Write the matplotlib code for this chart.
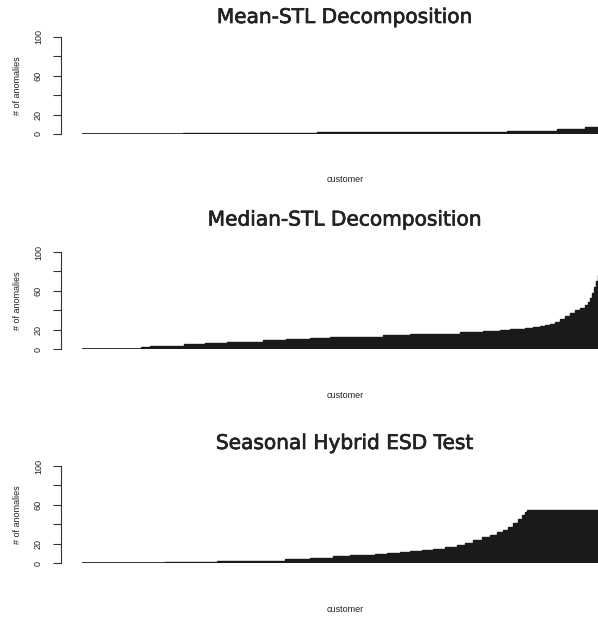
import numpy as np
import matplotlib
matplotlib.use("Agg")
import matplotlib.pyplot as plt
import matplotlib.patheffects as pe

# ---- data (sorted number of anomalies per customer, run-length encoded) ----
titles = ["Mean-STL Decomposition", "Median-STL Decomposition", "Seasonal Hybrid ESD Test"]

mean_counts = [101, 134, 190, 50, 28, 17]
mean_levels = [0, 1, 2, 3, 5, 7]

median_counts = [59, 9, 34, 21, 22, 36, 23, 24, 20, 25, 28, 27, 23, 27, 23, 17, 10, 15,
                 8, 7, 5, 5, 5, 5, 5, 5, 5, 5, 5, 3, 2, 2, 2, 2, 2, 2, 2]
median_levels = [0, 2.4, 3.4, 4.8, 5.9, 7.2, 9.0, 10.3, 11.0, 12.1, 12.7, 14.1, 15.0, 15.8,
                 17.2, 18.6, 19.5, 20.3, 21.5, 22.3, 23.5, 24.5, 26, 28, 31, 34, 37, 40,
                 42.5, 45.5, 48.8, 53, 58, 64, 70, 76, 80]

esd_counts = [83, 52, 68, 25, 23, 17, 13, 12, 12, 13, 10, 12, 11, 12, 12, 8, 8, 9, 8, 7,
              6, 5, 5, 5, 4, 3, 2, 75]
esd_levels = [0, 1.0, 2.4, 4.1, 5.5, 6.9, 7.8, 8.6, 9.5, 10.3, 11.4, 12.4, 13.6, 14.8,
              16.5, 18.6, 21, 23.4, 26.5, 29.3, 32, 34.5, 37.5, 41.3, 45.5, 49.8, 52.5, 54.3]

series = [(mean_counts, mean_levels), (median_counts, median_levels), (esd_counts, esd_levels)]

y_ticks = [0, 20, 40, 60, 80, 100]
y_ticklabels = ["0", "20", "", "60", "", "100"]

# ---- layout (pixels) ----
W, H = 598, 618
zero_px = [134, 349, 563]
hund_px = [37, 252, 466]
title_px = [17.5, 220, 443.5]
cust_px = [180, 395, 610]
axis_px = 61
data_start_px = 82

fig = plt.figure(figsize=(W / 100, H / 100), dpi=100)
fill_col = "#1a1a1a"

for i, (counts, levels) in enumerate(series):
    bottom = 1 - zero_px[i] / H
    height = (zero_px[i] - hund_px[i]) / H
    left = axis_px / W
    ax = fig.add_axes([left, bottom, 1 - left, height])
    edges = np.concatenate([[0], np.cumsum(counts)])
    ax.stairs(levels, edges, fill=True, baseline=0, color=fill_col, lw=0)
    ax.stairs(levels, edges, fill=False, baseline=0, color=fill_col, lw=1.0)
    ax.plot([edges[0], edges[-1]], [0, 0], color=fill_col, lw=1.2, solid_capstyle="butt")
    x0 = -(data_start_px - axis_px)
    ax.set_xlim(x0, x0 + (W - axis_px))
    ax.set_ylim(0, 100)
    for s in ["top", "right", "bottom"]:
        ax.spines[s].set_visible(False)
    ax.spines["left"].set_bounds(0, 100)
    ax.spines["left"].set_color("#333333")
    ax.spines["left"].set_linewidth(0.8)
    ax.set_xticks([])
    ax.set_yticks(y_ticks)
    ax.set_yticklabels(y_ticklabels, rotation=90, va="center", ha="right",
                       family="Liberation Sans", fontsize=6.5, color="#222222")
    ax.tick_params(axis="y", direction="out", length=6, width=0.8, color="#333333", pad=7)
    ax.patch.set_alpha(0)

    cx = (345) / W
    t = fig.text(cx, 1 - title_px[i] / H, titles[i], ha="center", va="center",
                 family="DejaVu Sans", fontsize=14.5, color="#222222")
    t.set_path_effects([pe.withStroke(linewidth=0.5, foreground="#222222")])
    fig.text(cx, 1 - cust_px[i] / H, "customer", ha="center", va="center",
             family="Liberation Sans", fontsize=6.5, color="#222222")
    fig.text(18 / W, 1 - (zero_px[i] + hund_px[i]) / 2 / H, "# of anomalies", rotation=90,
             ha="center", va="center", family="Liberation Sans", fontsize=6.5, color="#222222")

fig.savefig("out.png", dpi=100)
